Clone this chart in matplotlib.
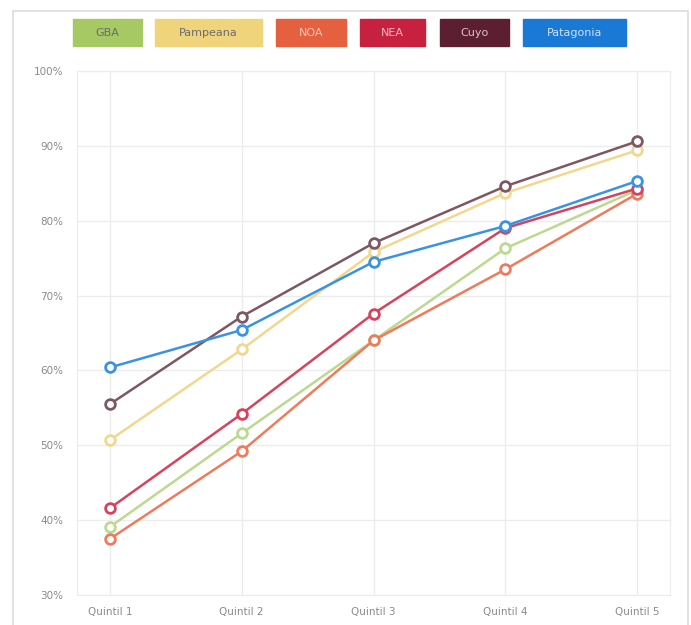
import matplotlib.pyplot as plt
from matplotlib.patches import Rectangle

# Datos (porcentaje por quintil)
quintiles = ["Quintil 1", "Quintil 2", "Quintil 3", "Quintil 4", "Quintil 5"]
regiones = ["GBA", "Pampeana", "NOA", "NEA", "Cuyo", "Patagonia"]
gba = [39.1, 51.6, 64.0, 76.3, 84.1]
pampeana = [50.7, 62.8, 75.8, 83.7, 89.4]
noa = [37.5, 49.2, 64.0, 73.5, 83.6]
nea = [41.6, 54.2, 67.6, 79.0, 84.3]
cuyo = [55.5, 67.2, 77.0, 84.6, 90.6]
patagonia = [60.4, 65.4, 74.5, 79.3, 85.3]
yticks = [30, 40, 50, 60, 70, 80, 90, 100]

series = [gba, pampeana, noa, nea, cuyo, patagonia]
legend_colors = ["#a6c964", "#f0d47c", "#e5603e", "#c7213f", "#5b1f31", "#1b79d6"]
line_colors = ["#bcd98f", "#f1d88e", "#ee7b5c", "#d6435e", "#7d5863", "#3a93e2"]
text_colors = ["#6b6b6b", "#6b6b6b", "#f4c6b6", "#f2b8c4", "#d9c2c8", "#cfe3f7"]

fig = plt.figure(figsize=(6.91, 6.25), dpi=100)
fig.patch.set_facecolor("white")

# marco exterior
fig.patches.append(Rectangle((13 / 691, -0.01), (688 - 13) / 691, 1.01 - 11 / 625,
                             transform=fig.transFigure, fill=False,
                             edgecolor="#dcdcdc", lw=1.2))

ax = fig.add_axes([77 / 691, 1 - 595 / 625, (670 - 77) / 691, (595 - 71) / 625])
x = range(len(quintiles))
for vals, lc in zip(series, line_colors):
    ax.plot(x, vals, color=lc, lw=1.8, marker="o", markersize=7,
            markerfacecolor="white", markeredgecolor=lc, markeredgewidth=2, zorder=3)

ax.set_xlim(-0.25, 4.25)
ax.set_ylim(30, 100)
ax.set_yticks(yticks)
ax.set_yticklabels([f"{v}%" for v in yticks])
ax.set_xticks(list(x))
ax.set_xticklabels(quintiles)
ax.tick_params(length=0, labelsize=7.5, labelcolor="#8a8a8a")
ax.tick_params(axis="y", pad=10)
ax.tick_params(axis="x", pad=9)
ax.grid(True, color="#ececec", lw=1)
for s in ax.spines.values():
    s.set_color("#ececec")

# leyenda como cajas de color
boxes = [(73, 142), (155, 262), (276, 346), (360, 425), (440, 509), (523, 626)]
for (x0, x1), name, bc, tc in zip(boxes, regiones, legend_colors, text_colors):
    fig.patches.append(Rectangle((x0 / 691, 1 - 46 / 625), (x1 - x0) / 691, 27 / 625,
                                 transform=fig.transFigure, color=bc))
    fig.text((x0 + x1) / 2 / 691, 1 - 32.5 / 625, name, ha="center", va="center",
             fontsize=8, color=tc)

fig.savefig("out.png", dpi=100)
